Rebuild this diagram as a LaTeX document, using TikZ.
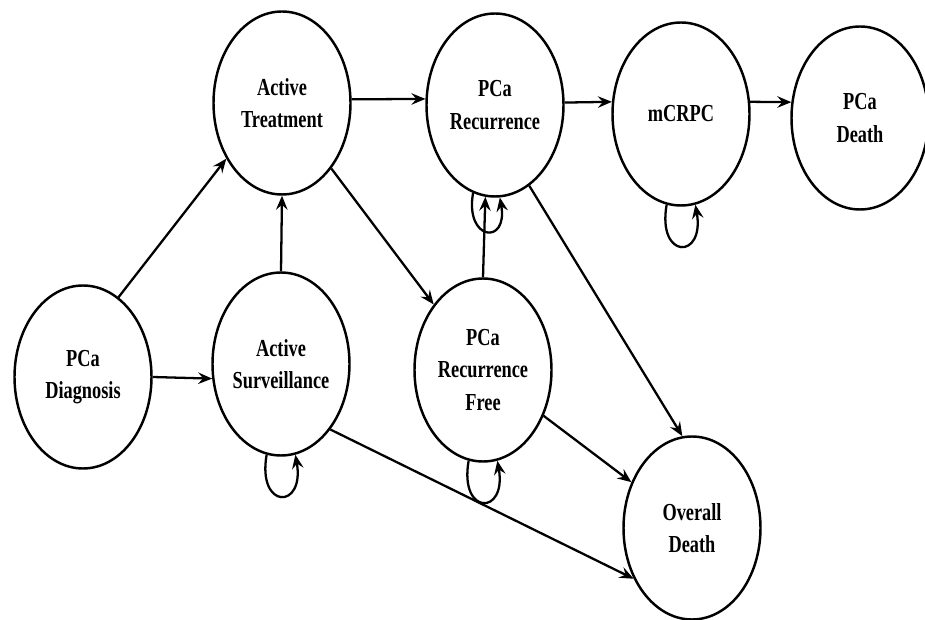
\documentclass[tikz,border=0pt]{standalone}
\usepackage{fontspec}
\setmainfont{Liberation Serif}[FakeStretch=0.75]
\usetikzlibrary{shapes.geometric,arrows.meta}

\begin{document}
\begin{tikzpicture}[
  state/.style={draw, ellipse, line width=1.4pt,
    minimum width=2.74cm, minimum height=3.66cm, inner sep=0pt,
    align=center, font=\fontsize{13.9}{18.4}\selectfont\bfseries},
  link/.style={->, line width=1.3pt},
  >={Stealth[length=2.8mm, width=2.3mm, inset=1mm]}]

\clip (0,0) rectangle (18.5,12.38);

% states of the model
\path
(1.66,4.84)  node[state] (diag)   {PCa\\Diagnosis}
(5.64,10.32) node[state] (treat)  {Active\\Treatment}
(9.90,10.28) node[state] (rec)    {PCa\\Recurrence}
(13.62,10.10) node[state] (mcrpc) {mCRPC}
(17.20,10.02) node[state] (pdeath) {PCa\\Death}
(5.62,5.10)  node[state] (surv)   {Active\\Surveillance}
(9.66,4.98)  node[state] (free)   {PCa\\Recurrence\\Free}
(13.84,1.82) node[state] (odeath) {Overall\\Death};

% transitions
\draw[link] (diag.66) -- (treat.225);
\draw[link] (diag.east) -- (surv.192);
\draw[link] (surv.north) -- (treat.south);
\draw[link] (treat.3) -- (rec.175);
\draw[link] (treat) -- (free);
\draw[link] (free.north) -- (rec.-96);
\draw[link] (rec.2) -- (mcrpc.170);
\draw[link] (mcrpc.10) -- (pdeath.167);
\draw[link] (rec.-67) -- (odeath.96);
\draw[link] (free) -- (odeath);
\draw[link] (surv.-53) -- (odeath.221);

% staying in the same state
\draw[link] (surv.-99) to[out=-100, in=-80, looseness=5] (surv.-81);
\draw[link] (free.-99) to[out=-100, in=-80, looseness=5] (free.-81);
\draw[link] (mcrpc.-99) to[out=-100, in=-80, looseness=5] (mcrpc.-81);
\draw[link] (rec.-104) to[out=-100, in=-80, looseness=4.6] (rec.-87);

\end{tikzpicture}
\end{document}
